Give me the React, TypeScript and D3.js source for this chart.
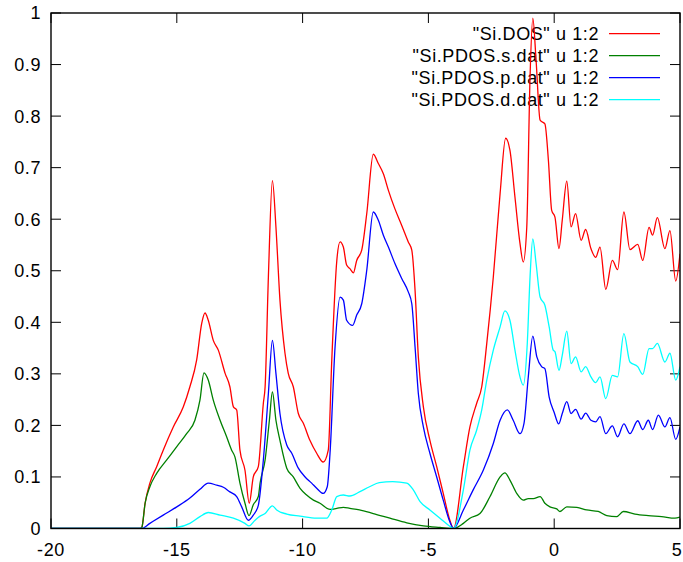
import React from "react";
import * as d3 from "d3";

// Energy (eV) / density-of-states pairs for each curve
const totalDos: [number, number][] = [
  [-20, 0], [-16.45, 0], [-16.39, 0.002], [-16.26, 0.049], [-16.07, 0.088], [-15.8, 0.12],
  [-15.54, 0.152], [-15.14, 0.197], [-14.74, 0.236], [-14.48, 0.275], [-14.21, 0.327],
  [-14.01, 0.398], [-13.88, 0.418], [-13.75, 0.404], [-13.55, 0.365], [-13.35, 0.346],
  [-13.08, 0.301], [-12.89, 0.275], [-12.75, 0.236], [-12.62, 0.23], [-12.49, 0.152],
  [-12.29, 0.113], [-12.12, 0.049], [-11.96, 0.1], [-11.76, 0.12], [-11.56, 0.243],
  [-11.49, 0.275], [-11.36, 0.488], [-11.2, 0.675], [-11.06, 0.585], [-10.9, 0.443],
  [-10.7, 0.34], [-10.57, 0.301], [-10.37, 0.275], [-10.17, 0.223], [-9.97, 0.204],
  [-9.71, 0.171], [-9.44, 0.146], [-9.18, 0.129], [-8.98, 0.152], [-8.84, 0.327],
  [-8.64, 0.52], [-8.51, 0.556], [-8.38, 0.546], [-8.25, 0.511], [-8.12, 0.504],
  [-7.98, 0.496], [-7.85, 0.52], [-7.65, 0.54], [-7.45, 0.611], [-7.19, 0.726],
  [-6.99, 0.708], [-6.79, 0.688], [-6.59, 0.656], [-6.33, 0.62], [-6.06, 0.588],
  [-5.8, 0.556], [-5.66, 0.54], [-5.53, 0.462], [-5.4, 0.333], [-5.2, 0.236],
  [-4.94, 0.171], [-4.67, 0.12], [-4.41, 0.068], [-4.14, 0.015], [-4.0, 0],
  [-3.61, 0.12], [-3.35, 0.197], [-3.08, 0.243], [-2.88, 0.275], [-2.68, 0.359],
  [-2.42, 0.488], [-2.15, 0.65], [-1.93, 0.757], [-1.76, 0.734], [-1.56, 0.643],
  [-1.36, 0.553], [-1.23, 0.517], [-1.09, 0.585], [-0.96, 0.876], [-0.85, 0.99],
  [-0.72, 0.908], [-0.56, 0.792], [-0.37, 0.785], [-0.23, 0.714], [-0.1, 0.617],
  [0.03, 0.604], [0.19, 0.543], [0.32, 0.598], [0.5, 0.674], [0.67, 0.585],
  [0.85, 0.611], [1.07, 0.559], [1.25, 0.58], [1.46, 0.543], [1.65, 0.526],
  [1.82, 0.546], [2.05, 0.464], [2.31, 0.52], [2.52, 0.502], [2.77, 0.614],
  [3.01, 0.541], [3.32, 0.551], [3.52, 0.52], [3.77, 0.584], [3.91, 0.569],
  [4.1, 0.603], [4.4, 0.543], [4.6, 0.578], [4.83, 0.48], [5.0, 0.533],
];

const sDos: [number, number][] = [
  [-20, 0], [-16.45, 0], [-16.39, 0.002], [-16.26, 0.049], [-16.07, 0.081], [-15.8, 0.107],
  [-15.4, 0.133], [-15.0, 0.159], [-14.61, 0.184], [-14.28, 0.21], [-14.08, 0.249],
  [-13.92, 0.302], [-13.75, 0.288], [-13.55, 0.249], [-13.28, 0.21], [-13.02, 0.178],
  [-12.82, 0.152], [-12.69, 0.139], [-12.49, 0.088], [-12.29, 0.049], [-12.13, 0.025],
  [-11.96, 0.046], [-11.76, 0.062], [-11.69, 0.088], [-11.49, 0.133], [-11.32, 0.21],
  [-11.2, 0.265], [-11.06, 0.21], [-10.9, 0.171], [-10.63, 0.117], [-10.37, 0.1],
  [-10.1, 0.078], [-9.84, 0.065], [-9.57, 0.055], [-9.31, 0.049], [-8.91, 0.037],
  [-8.64, 0.039], [-8.38, 0.041], [-8.12, 0.039], [-7.74, 0.036], [-7.19, 0.029],
  [-6.53, 0.02], [-5.86, 0.011], [-5.2, 0.005], [-4.54, 0.002], [-4.0, 0],
  [-3.61, 0.01], [-3.35, 0.02], [-2.95, 0.029], [-2.55, 0.062], [-2.15, 0.1],
  [-1.96, 0.108], [-1.76, 0.094], [-1.49, 0.068], [-1.23, 0.055], [-1.03, 0.058],
  [-0.83, 0.058], [-0.56, 0.062], [-0.37, 0.049], [-0.17, 0.042], [0.1, 0.038],
  [0.23, 0.033], [0.5, 0.042], [0.9, 0.041], [1.29, 0.036], [1.75, 0.033],
  [2.09, 0.025], [2.48, 0.023], [2.75, 0.033], [3.21, 0.028], [3.74, 0.025],
  [4.27, 0.023], [4.8, 0.02], [5.0, 0.022],
];

const pDos: [number, number][] = [
  [-20, 0], [-16.4, 0], [-16.07, 0.01], [-15.54, 0.026], [-15.0, 0.042], [-14.48, 0.059],
  [-14.08, 0.076], [-13.75, 0.088], [-13.41, 0.084], [-13.15, 0.08], [-12.89, 0.071],
  [-12.62, 0.062], [-12.42, 0.042], [-12.16, 0.016], [-11.96, 0.026], [-11.76, 0.045],
  [-11.56, 0.133], [-11.36, 0.262], [-11.2, 0.365], [-11.06, 0.301], [-10.9, 0.223],
  [-10.63, 0.162], [-10.43, 0.146], [-10.17, 0.117], [-9.9, 0.1], [-9.64, 0.088],
  [-9.44, 0.078], [-9.18, 0.068], [-9.02, 0.081], [-8.91, 0.146], [-8.71, 0.352],
  [-8.51, 0.449], [-8.38, 0.443], [-8.25, 0.404], [-8.01, 0.394], [-7.85, 0.414],
  [-7.65, 0.436], [-7.45, 0.501], [-7.19, 0.614], [-6.99, 0.598], [-6.79, 0.569],
  [-6.59, 0.546], [-6.33, 0.514], [-6.06, 0.485], [-5.8, 0.459], [-5.66, 0.436],
  [-5.53, 0.352], [-5.4, 0.262], [-5.2, 0.197], [-4.94, 0.146], [-4.67, 0.1],
  [-4.41, 0.055], [-4.14, 0.012], [-4.0, 0], [-3.61, 0.036], [-3.22, 0.075],
  [-2.82, 0.113], [-2.42, 0.165], [-2.15, 0.21], [-1.86, 0.23], [-1.63, 0.21],
  [-1.36, 0.184], [-1.2, 0.204], [-1.03, 0.294], [-0.85, 0.373], [-0.69, 0.333],
  [-0.5, 0.314], [-0.37, 0.31], [-0.2, 0.255], [0.0, 0.225], [0.18, 0.203],
  [0.32, 0.223], [0.5, 0.246], [0.67, 0.223], [0.85, 0.231], [1.07, 0.212],
  [1.25, 0.224], [1.46, 0.21], [1.65, 0.207], [1.82, 0.217], [2.05, 0.184],
  [2.31, 0.199], [2.52, 0.178], [2.77, 0.203], [3.01, 0.184], [3.32, 0.209],
  [3.52, 0.192], [3.74, 0.21], [3.91, 0.192], [4.14, 0.22], [4.4, 0.197],
  [4.6, 0.215], [4.83, 0.173], [5.0, 0.197],
];

const dDos: [number, number][] = [
  [-20, 0], [-16.4, 0], [-15.54, 0.0], [-15.0, 0.002], [-14.48, 0.01], [-14.08, 0.023],
  [-13.75, 0.031], [-13.28, 0.026], [-12.75, 0.02], [-12.29, 0.01], [-12.13, 0.005],
  [-11.89, 0.016], [-11.72, 0.023], [-11.49, 0.029], [-11.2, 0.044], [-11.03, 0.036],
  [-10.63, 0.028], [-10.1, 0.024], [-9.44, 0.02], [-9.04, 0.02], [-8.84, 0.036],
  [-8.64, 0.062], [-8.38, 0.065], [-8.12, 0.063], [-7.74, 0.071], [-7.34, 0.081],
  [-6.95, 0.089], [-6.42, 0.091], [-5.86, 0.088], [-5.6, 0.075], [-5.33, 0.052],
  [-4.94, 0.036], [-4.54, 0.02], [-4.14, 0.004], [-4.0, 0], [-3.61, 0.075],
  [-3.35, 0.152], [-3.08, 0.191], [-2.88, 0.23], [-2.68, 0.288], [-2.42, 0.346],
  [-2.15, 0.391], [-1.96, 0.422], [-1.76, 0.404], [-1.56, 0.346], [-1.36, 0.294],
  [-1.23, 0.278], [-1.07, 0.359], [-0.96, 0.488], [-0.85, 0.562], [-0.72, 0.514],
  [-0.56, 0.449], [-0.37, 0.433], [-0.2, 0.391], [-0.04, 0.346], [0.03, 0.343],
  [0.19, 0.307], [0.32, 0.336], [0.5, 0.383], [0.67, 0.32], [0.85, 0.333],
  [1.07, 0.304], [1.25, 0.314], [1.46, 0.294], [1.65, 0.283], [1.82, 0.294],
  [2.05, 0.252], [2.31, 0.297], [2.52, 0.294], [2.77, 0.378], [3.01, 0.323],
  [3.32, 0.314], [3.52, 0.299], [3.77, 0.349], [3.91, 0.349], [4.1, 0.359],
  [4.4, 0.323], [4.6, 0.34], [4.83, 0.288], [5.0, 0.314],
];

const seriesLabels = [
  '"Si.DOS" u 1:2',
  '"Si.PDOS.s.dat" u 1:2',
  '"Si.PDOS.p.dat" u 1:2',
  '"Si.PDOS.d.dat" u 1:2',
];
const seriesColors = ["#ff0000", "#008000", "#0000ff", "#00ffff"];
const seriesData = [totalDos, sDos, pDos, dDos];

const xTicks = [-20, -15, -10, -5, 0, 5];
const yTicks = [0, 0.1, 0.2, 0.3, 0.4, 0.5, 0.6, 0.7, 0.8, 0.9, 1];

const W = 683;
const H = 562;
const L = 51;
const R = 680;
const T = 13;
const B = 528.5;
const TICK = 10;
const FONT = "'Liberation Sans', Arial, Helvetica, sans-serif";
const FS = 18;
const LS = 0.6;

export default function App() {
  const x = d3.scaleLinear().domain([-20, 5]).range([L, R]);
  const y = d3.scaleLinear().domain([0, 1]).range([B, T]);
  const fmt = d3.format(".1~f");
  const line = d3
    .line<[number, number]>()
    .x((d) => x(d[0]))
    .y((d) => y(d[1]))
    .curve(d3.curveMonotoneX);

  return (
    <svg
      width={W}
      height={H}
      viewBox={`0 0 ${W} ${H}`}
      style={{ position: "absolute", left: 0, top: 0, background: "#fff" }}
      fontFamily={FONT}
      fontSize={FS}
      letterSpacing={LS}
    >
      <defs>
        <clipPath id="plotArea">
          <rect x={L} y={T - 2} width={R - L} height={B - T + 2} />
        </clipPath>
      </defs>

      {/* y ticks, mirrored on right */}
      {yTicks.map((t) => (
        <g key={`y${t}`}>
          <line x1={L} x2={L + TICK} y1={y(t)} y2={y(t)} stroke="#000" strokeWidth={1} />
          <line x1={R} x2={R - TICK} y1={y(t)} y2={y(t)} stroke="#000" strokeWidth={1} />
          <text x={41} y={y(t)} dy="0.36em" textAnchor="end" fill="#000">
            {fmt(t)}
          </text>
        </g>
      ))}

      {/* x ticks, mirrored on top */}
      {xTicks.map((t) => (
        <g key={`x${t}`}>
          <line x1={x(t)} x2={x(t)} y1={B} y2={B - TICK} stroke="#000" strokeWidth={1} />
          <line x1={x(t)} x2={x(t)} y1={T} y2={T + TICK} stroke="#000" strokeWidth={1} />
          <text x={Math.min(x(t), 677)} y={556} textAnchor="middle" fill="#000">
            {t}
          </text>
        </g>
      ))}

      {/* legend */}
      {seriesLabels.map((lab, i) => {
        const ly = 33.7 + i * 22;
        return (
          <g key={lab}>
            <text x={599} y={ly} dy="0.36em" textAnchor="end" fill="#000">
              {lab}
            </text>
            <line x1={609} x2={660} y1={ly} y2={ly} stroke={seriesColors[i]} strokeWidth={1.3} />
          </g>
        );
      })}

      {/* curves */}
      <g clipPath="url(#plotArea)">
        {seriesData.map((d, i) => (
          <path
            key={seriesLabels[i]}
            d={line(d) ?? ""}
            fill="none"
            stroke={seriesColors[i]}
            strokeWidth={1.3}
            strokeLinejoin="round"
          />
        ))}
      </g>

      {/* frame */}
      <rect x={L} y={T} width={R - L} height={B - T} fill="none" stroke="#000" strokeWidth={1.4} />
    </svg>
  );
}
